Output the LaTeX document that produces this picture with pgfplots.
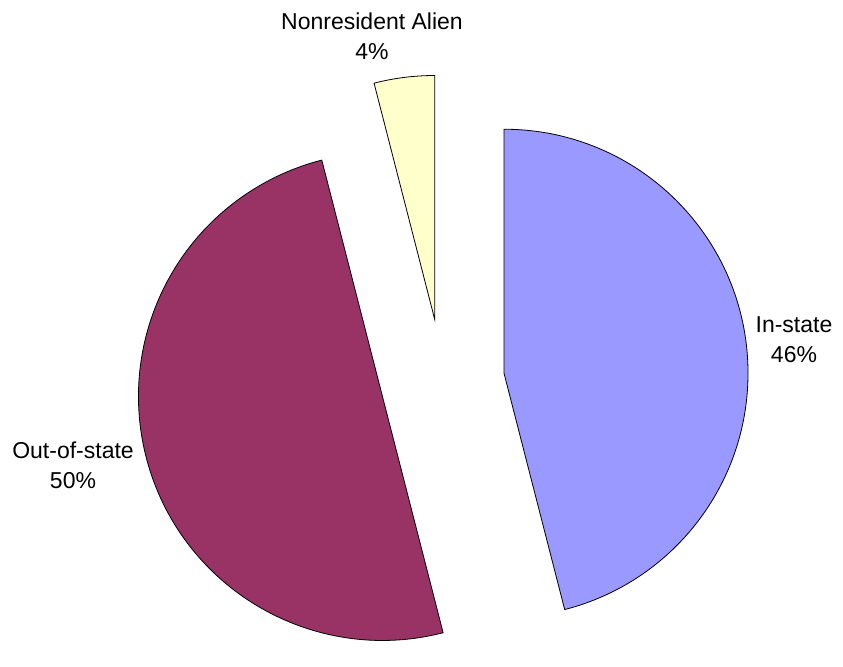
\documentclass[border=0pt]{standalone}
\usepackage{pgfplots}
\usepackage{pgfplotstable}
\pgfplotsset{compat=1.18}
\usepackage{fontspec}
\setmainfont{Liberation Sans}
\definecolor{instate}{HTML}{9999FF}
\definecolor{outstate}{HTML}{993366}
\definecolor{alien}{HTML}{FFFFCC}
\pgfplotstableread{
label value
In-state 46
Out-of-state 50
Nonresident 4
}\piedata
\begin{document}
\begin{tikzpicture}
\pgfplotstablegetelem{0}{value}\of\piedata \let\vA\pgfplotsretval
\pgfplotstablegetelem{1}{value}\of\piedata \let\vB\pgfplotsretval
\pgfplotstablegetelem{2}{value}\of\piedata \let\vC\pgfplotsretval
\pgfmathsetmacro{\aA}{90}
\pgfmathsetmacro{\aB}{\aA-3.6*\vA}
\pgfmathsetmacro{\aC}{\aB-3.6*\vB}
\pgfmathsetmacro{\aD}{\aC-3.6*\vC}
\pgfmathsetmacro{\mA}{(\aA+\aB)/2}
\pgfmathsetmacro{\mB}{(\aB+\aC)/2}
\pgfmathsetmacro{\mC}{(\aC+\aD)/2}
\def\cx{442.5}\def\cy{381}\def\R{244}\def\d{62}
\begin{axis}[
  x=1pt, y=1pt, y dir=reverse,
  xmin=0, xmax=843, ymin=0, ymax=642,
  scale only axis, hide axis, clip=false,
]
\path (axis cs:0,0) rectangle (axis cs:843,642);
% In-state
\filldraw[fill=instate, draw=black, line width=0.8pt]
  (axis cs:{\cx+\d*cos(\mA)},{\cy-\d*sin(\mA)}) --
  (axis cs:{\cx+\d*cos(\mA)+\R*cos(\aA)},{\cy-\d*sin(\mA)-\R*sin(\aA)})
  arc[start angle=\aA, end angle=\aB, radius=\R pt] -- cycle;
% Out-of-state
\filldraw[fill=outstate, draw=black, line width=0.8pt]
  (axis cs:{\cx+\d*cos(\mB)},{\cy-\d*sin(\mB)}) --
  (axis cs:{\cx+\d*cos(\mB)+\R*cos(\aB)},{\cy-\d*sin(\mB)-\R*sin(\aB)})
  arc[start angle=\aB, end angle=\aC, radius=\R pt] -- cycle;
% Nonresident Alien
\filldraw[fill=alien, draw=black, line width=0.8pt]
  (axis cs:{\cx+\d*cos(\mC)},{\cy-\d*sin(\mC)}) --
  (axis cs:{\cx+\d*cos(\mC)+\R*cos(\aC)},{\cy-\d*sin(\mC)-\R*sin(\aC)})
  arc[start angle=\aC, end angle=\aD, radius=\R pt] -- cycle;
\node[align=center, font=\fontsize{23}{30}\selectfont] at (axis cs:372,36) {Nonresident Alien\\4\%};
\node[align=center, font=\fontsize{23}{30}\selectfont] at (axis cs:794,340) {In-state\\46\%};
\node[align=center, font=\fontsize{23}{30}\selectfont] at (axis cs:73,465) {Out-of-state\\50\%};
\end{axis}
\end{tikzpicture}
\end{document}
